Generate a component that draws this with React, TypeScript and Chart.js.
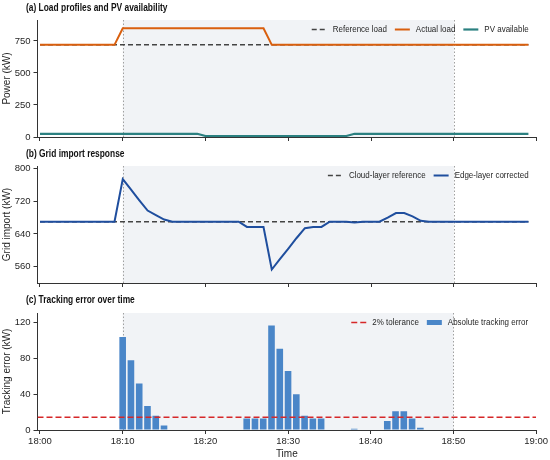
import React, { useEffect, useRef } from "react";
import { Chart, registerables } from "chart.js";

Chart.register(...registerables);

// ---------- shared axis data ----------
const X_MIN = -0.3;
const X_MAX = 60;
const timeTickValues = [0, 10, 20, 30, 40, 50, 60];
const timeTickLabels = ["18:00", "18:10", "18:20", "18:30", "18:40", "18:50", "19:00"];
const eventStartMin = 10;
const eventEndMin = 50;

// ---------- panel (a) ----------
const refLoadMin = [0, 59];
const refLoadKW = [720, 720];
const actualLoadMin = [0, 9, 10, 27, 28, 59];
const actualLoadKW = [720, 720, 850, 850, 720, 720];
const pvMin = [0, 19, 20, 37, 38, 59];
const pvKW = [25, 25, 8, 8, 25, 25];
const powerTicks = [0, 250, 500, 750];

// ---------- panel (b) ----------
const cloudRefMin = [0, 59];
const cloudRefKW = [670, 670];
const edgeMin = [0, 9, 10, 11, 12, 13, 14, 15, 16, 24, 25, 26, 27, 28, 29, 30, 31, 32, 33, 34, 35, 37, 38, 39, 41, 42, 43, 44, 45, 46, 47, 59];
const edgeKW = [670, 670, 774, 748, 722, 697, 686, 675, 670, 670, 657, 657, 657, 553, 579, 604, 630, 654, 657, 657, 670, 670, 668, 670, 670, 680, 691, 691, 683, 672, 670, 670];
const gridTicks = [560, 640, 720, 800];

// ---------- panel (c) ----------
const errMin = [10, 11, 12, 13, 14, 15, 25, 26, 27, 28, 29, 30, 31, 32, 33, 34, 38, 42, 43, 44, 45, 46];
const errKW = [104, 78, 52, 27, 16, 5, 13, 13, 13, 117, 91, 66, 40, 16, 13, 13, 1.5, 10, 21, 21, 13, 2.5];
const toleranceKW = 14.4;
const errTicks = [0, 40, 80, 120];

// ---------- styles ----------
const SANS = '"Liberation Sans", Arial, Helvetica, sans-serif';
const TEXT = "#262626";
const AXIS = "#333333";
const SHADE = "#f1f3f6";
const ORANGE = "#d95f0e";
const TEAL = "#2b8080";
const BLUE = "#1f4e9e";
const BAR = "#4a86c8";
const RED = "#d62728";
const DARK = "#444444";
const CONDENSE = 0.84;

const pts = (xs: number[], ys: number[]) => xs.map((x, i) => ({ x, y: ys[i] }));

const shadePlugin = {
  id: "eventShade",
  beforeDraw(chart: any) {
    const { ctx, chartArea, scales } = chart;
    const x0 = scales.x.getPixelForValue(eventStartMin);
    const x1 = scales.x.getPixelForValue(eventEndMin);
    ctx.save();
    ctx.fillStyle = SHADE;
    ctx.fillRect(x0, chartArea.top, x1 - x0, chartArea.bottom - chartArea.top);
    ctx.strokeStyle = "#a0a0a0";
    ctx.lineWidth = 1;
    ctx.setLineDash([1.5, 2]);
    [x0, x1].forEach((x) => {
      ctx.beginPath();
      ctx.moveTo(Math.round(x) + 0.5, chartArea.top);
      ctx.lineTo(Math.round(x) + 0.5, chartArea.bottom);
      ctx.stroke();
    });
    ctx.restore();
  },
};

const legendPlugin = {
  id: "insideLegend",
  afterDraw(chart: any) {
    const { ctx, chartArea } = chart;
    const sample = 15;
    const gapText = 6;
    const gapItem = 8;
    ctx.save();
    ctx.font = `9.5px ${SANS}`;
    ctx.textBaseline = "middle";
    const items = chart.data.datasets.map((ds: any) => ({ ds, w: ctx.measureText(ds.label).width * CONDENSE }));
    let total = 0;
    items.forEach((it: any, i: number) => {
      total += sample + gapText + it.w + (i < items.length - 1 ? gapItem : 0);
    });
    let x = chartArea.right - 8 - total;
    const y = chartArea.top + 9.5;
    items.forEach((it: any) => {
      const ds = it.ds;
      if (ds.type === "bar") {
        ctx.fillStyle = ds.backgroundColor;
        ctx.fillRect(x, y - 2.5, sample, 5);
      } else {
        ctx.strokeStyle = ds.borderColor;
        ctx.lineWidth = ds.borderWidth;
        ctx.setLineDash(ds.borderDash || []);
        ctx.beginPath();
        ctx.moveTo(x, y);
        ctx.lineTo(x + sample, y);
        ctx.stroke();
        ctx.setLineDash([]);
      }
      const tx = x + sample + gapText;
      ctx.save();
      ctx.translate(tx, y);
      ctx.scale(CONDENSE, 1);
      ctx.fillStyle = TEXT;
      ctx.fillText(ds.label, 0, 0);
      ctx.restore();
      x += sample + gapText + it.w + gapItem;
    });
    ctx.restore();
  },
};

function xScale(showLabels: boolean, height: number) {
  return {
    type: "linear",
    min: X_MIN,
    max: X_MAX,
    offset: false,
    afterBuildTicks: (s: any) => {
      s.ticks = timeTickValues.map((v) => ({ value: v }));
    },
    afterFit: (s: any) => {
      s.height = height;
    },
    grid: { display: true, drawOnChartArea: false, drawTicks: true, tickLength: 4, color: AXIS, offset: false },
    border: { display: true, color: AXIS, width: 1 },
    ticks: {
      display: showLabels,
      padding: 2,
      maxRotation: 0,
      autoSkip: false,
      color: TEXT,
      font: { family: SANS, size: 9.5 },
      callback: (v: number) => {
        const i = timeTickValues.indexOf(v);
        return i >= 0 ? timeTickLabels[i] : "";
      },
    },
    title: showLabels
      ? { display: true, text: "Time", color: TEXT, font: { family: SANS, size: 10 }, padding: { top: 0, bottom: 0 } }
      : { display: false },
  };
}

function yScale(min: number, max: number, tickVals: number[], title: string) {
  return {
    type: "linear",
    min,
    max,
    afterBuildTicks: (s: any) => {
      s.ticks = tickVals.map((v) => ({ value: v }));
    },
    afterFit: (s: any) => {
      s.width = 37.5;
    },
    grid: { display: true, drawOnChartArea: false, drawTicks: true, tickLength: 4, color: AXIS },
    border: { display: true, color: AXIS, width: 1 },
    ticks: { padding: 3, color: TEXT, font: { family: SANS, size: 9.5 } },
    title: { display: true, text: title, color: TEXT, font: { family: SANS, size: 10 }, padding: { top: 1, bottom: 0 } },
  };
}

function baseOptions(padTop: number, xHeight: number, showX: boolean, y: any) {
  return {
    responsive: false,
    animation: false,
    events: [],
    layout: { padding: { top: padTop, right: 13.3, left: 0, bottom: 0 } },
    plugins: { legend: { display: false }, tooltip: { enabled: false }, title: { display: false } },
    scales: { x: xScale(showX, xHeight), y },
  };
}

function configA(): any {
  return {
    type: "line",
    data: {
      datasets: [
        { label: "Reference load", data: pts(refLoadMin, refLoadKW), borderColor: DARK, borderWidth: 1.5, borderDash: [5, 3], pointRadius: 0, order: 3 },
        { label: "Actual load", data: pts(actualLoadMin, actualLoadKW), borderColor: ORANGE, borderWidth: 2, pointRadius: 0, order: 2 },
        { label: "PV available", data: pts(pvMin, pvKW), borderColor: TEAL, borderWidth: 2.2, pointRadius: 0, order: 1 },
      ],
    },
    options: baseOptions(20, 9, false, yScale(0, 914, powerTicks, "Power (kW)")),
    plugins: [shadePlugin, legendPlugin],
  };
}

function configB(): any {
  return {
    type: "line",
    data: {
      datasets: [
        { label: "Cloud-layer reference", data: pts(cloudRefMin, cloudRefKW), borderColor: DARK, borderWidth: 1.5, borderDash: [5, 3], pointRadius: 0, order: 2 },
        { label: "Edge-layer corrected", data: pts(edgeMin, edgeKW), borderColor: BLUE, borderWidth: 2, pointRadius: 0, order: 1 },
      ],
    },
    options: baseOptions(20, 9, false, yScale(520, 806, gridTicks, "Grid import (kW)")),
    plugins: [shadePlugin, legendPlugin],
  };
}

function configC(): any {
  return {
    type: "line",
    data: {
      datasets: [
        {
          type: "line",
          label: "2% tolerance",
          data: [
            { x: X_MIN, y: toleranceKW },
            { x: X_MAX, y: toleranceKW },
          ],
          borderColor: RED,
          borderWidth: 1.5,
          borderDash: [6, 3],
          pointRadius: 0,
          order: 0,
        },
        {
          type: "bar",
          label: "Absolute tracking error",
          data: pts(errMin, errKW),
          backgroundColor: BAR,
          borderWidth: 0,
          barPercentage: 0.8,
          categoryPercentage: 1,
          order: 1,
        },
      ],
    },
    options: baseOptions(21, 30, true, yScale(0, 131, errTicks, "Tracking error (kW)")),
    plugins: [shadePlugin, legendPlugin],
  };
}

function Panel({ top, height, make }: { top: number; height: number; make: () => any }) {
  const ref = useRef<HTMLCanvasElement | null>(null);
  useEffect(() => {
    if (!ref.current) return;
    const chart = new Chart(ref.current, make());
    return () => chart.destroy();
  }, []);
  return (
    <div style={{ position: "absolute", left: 0, top, width: 550, height }}>
      <canvas ref={ref} width={550} height={height} style={{ display: "block", width: 550, height }} />
    </div>
  );
}

const titleStyle = (top: number): React.CSSProperties => ({
  position: "absolute",
  left: 26,
  top,
  fontFamily: SANS,
  fontWeight: "bold",
  fontSize: 10,
  lineHeight: "12px",
  color: "#111",
  whiteSpace: "nowrap",
  transform: `scaleX(${CONDENSE})`,
  transformOrigin: "left center",
});

export default function App() {
  return (
    <div style={{ position: "absolute", left: 0, top: 0, width: 550, height: 460, background: "#fff", overflow: "hidden" }}>
      <Panel top={0} height={146} make={configA} />
      <Panel top={146} height={146} make={configB} />
      <Panel top={292} height={168} make={configC} />
      <div style={titleStyle(1.5)}>(a) Load profiles and PV availability</div>
      <div style={titleStyle(147.5)}>(b) Grid import response</div>
      <div style={titleStyle(294)}>(c) Tracking error over time</div>
    </div>
  );
}
